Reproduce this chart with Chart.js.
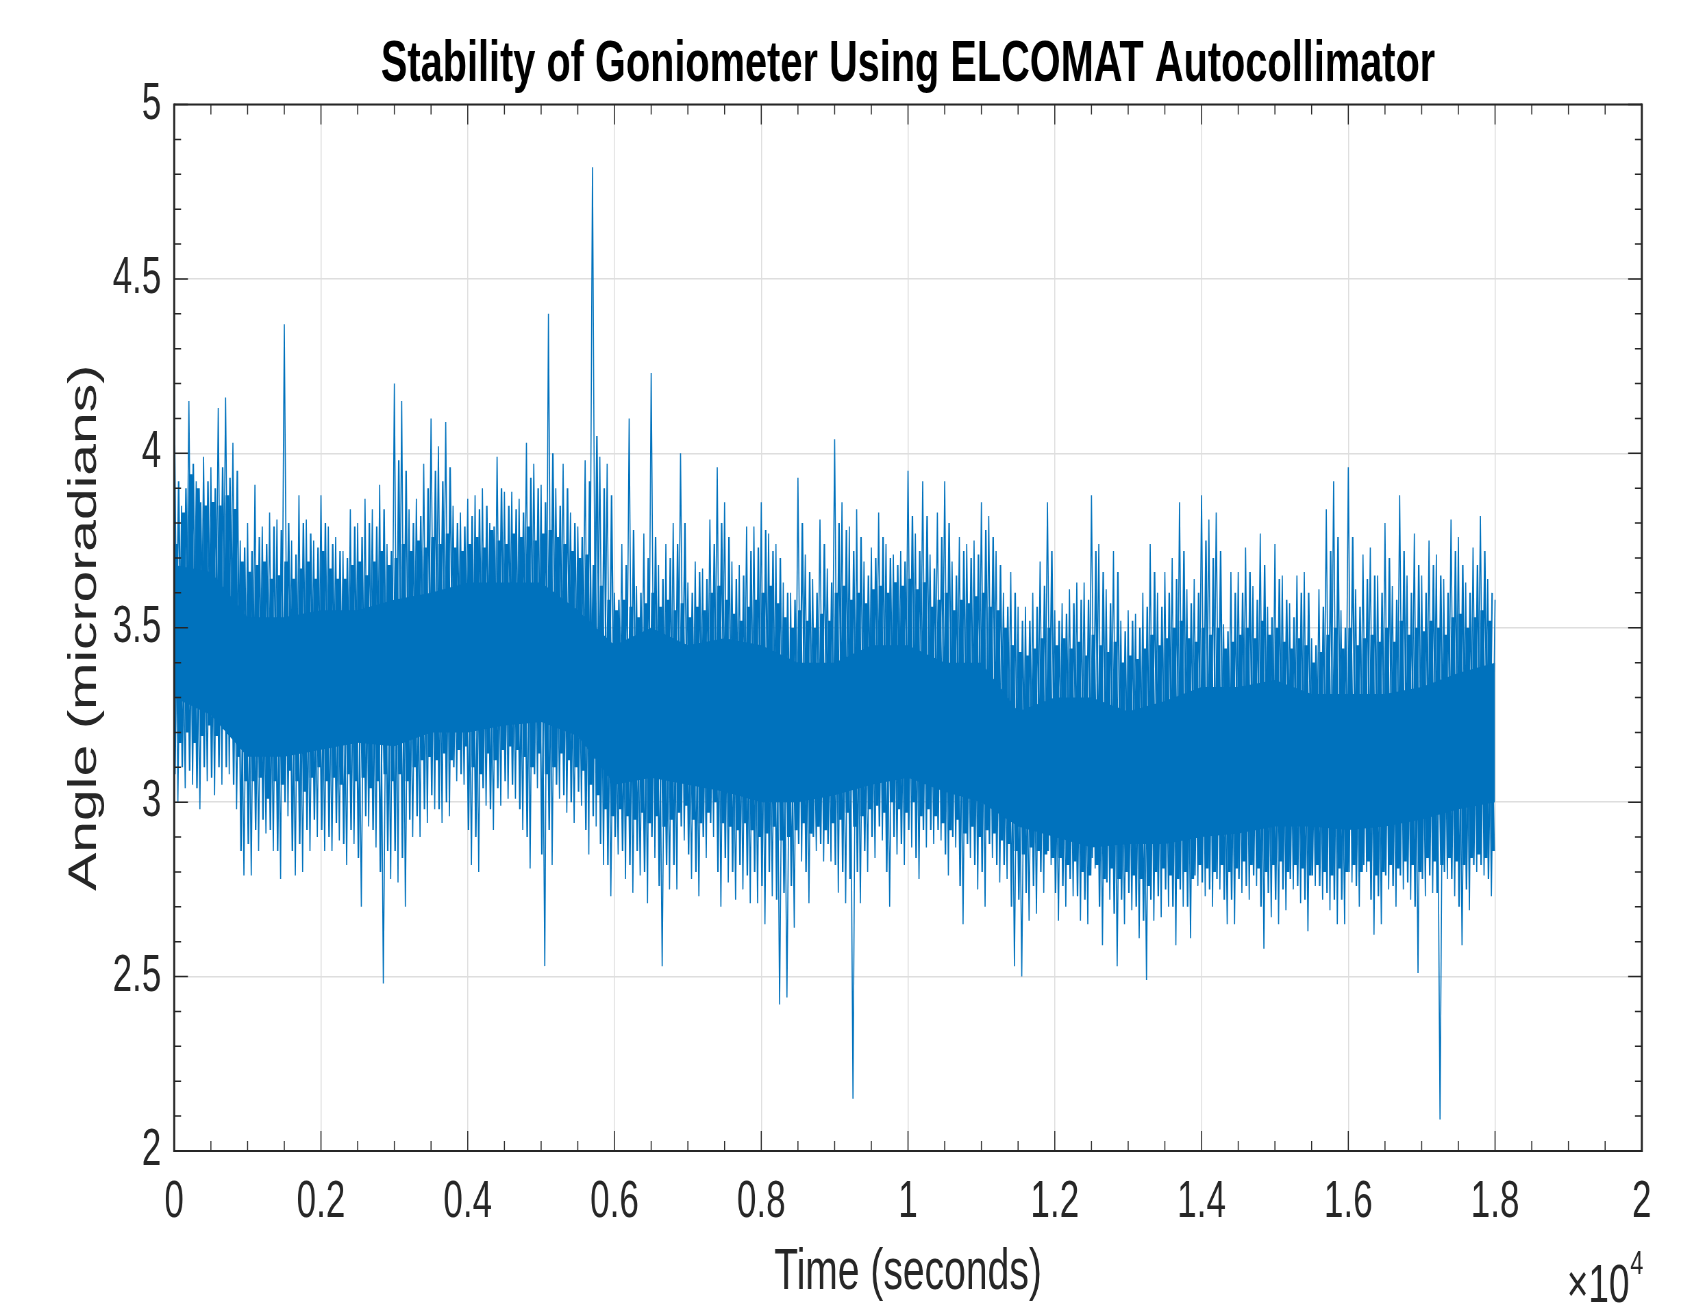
<!DOCTYPE html>
<html>
<head>
<meta charset="utf-8">
<script src="https://cdn.jsdelivr.net/npm/chart.js@4.4.1/dist/chart.umd.min.js"></script>
<style>
  html, body { margin: 0; padding: 0; background: #ffffff; overflow: hidden; width: 1707px; height: 1311px; }
  #wrap { position: absolute; left: 0; top: 0; width: 2492px; height: 1311px; transform: scaleX(0.685); transform-origin: 0 0; }
  canvas { display: block; }
</style>
</head>
<body>
<div id="wrap"><canvas id="chart" width="2492" height="1311"></canvas></div>
<script>
// ---------------- data ----------------
const chartTitle = 'Stability of Goniometer Using ELCOMAT Autocollimator';
const xAxisTitle = 'Time (seconds)';
const yAxisTitle = 'Angle (microradians)';
const xExponentLabel = '\u00d710';
const xExponent = '4';

const xTickValues = [0, 2000, 4000, 6000, 8000, 10000, 12000, 14000, 16000, 18000, 20000];
const xTickLabels = ['0', '0.2', '0.4', '0.6', '0.8', '1', '1.2', '1.4', '1.6', '1.8', '2'];
const yTickValues = [2, 2.5, 3, 3.5, 4, 4.5, 5];
const yTickLabels = ['2', '2.5', '3', '3.5', '4', '4.5', '5'];

// sampling grid of the envelope readings (seconds)
const peakStep = 100;   // column width of the readings
const coreStep = 500;   // solid core edges at 0, 500, ... 18000

// tallest excursion of the trace in each 100 s column (at t = 0, 100, ... 18000)
const peakHigh = [
  4.24,3.85,4.15,3.92,3.99,3.96,4.13,4.16,4.03,3.75,
  3.80,3.91,3.79,3.83,3.81,4.37,3.75,3.88,3.81,3.75,
  3.88,3.79,3.76,3.72,3.84,3.80,3.87,3.84,3.91,3.74,
  4.20,4.15,3.84,3.87,3.97,4.10,4.02,4.09,3.85,3.83,
  3.87,3.88,3.90,3.80,3.99,3.89,3.89,3.87,4.03,3.97,
  3.91,4.40,3.90,3.97,3.83,3.79,3.98,4.82,3.99,3.97,
  3.60,3.74,4.10,3.62,3.77,4.23,3.68,3.74,3.80,4.00,
  3.63,3.69,3.67,3.81,3.96,3.86,3.69,3.68,3.79,3.79,
  3.86,3.77,3.74,3.63,3.60,3.93,3.71,3.64,3.81,3.67,
  4.04,3.86,3.79,3.84,3.69,3.73,3.83,3.74,3.71,3.72,
  3.95,3.77,3.92,3.71,3.83,3.92,3.69,3.76,3.74,3.75,
  3.86,3.82,3.72,3.60,3.66,3.56,3.56,3.60,3.69,3.86,
  3.55,3.57,3.61,3.63,3.63,3.88,3.74,3.61,3.72,3.52,
  3.55,3.54,3.60,3.74,3.60,3.66,3.70,3.86,3.61,3.64,
  3.88,3.81,3.83,3.51,3.66,3.66,3.73,3.62,3.77,3.56,
  3.74,3.65,3.57,3.65,3.66,3.47,3.61,3.84,3.92,3.55,
  3.96,3.61,3.71,3.73,3.65,3.80,3.62,3.88,3.65,3.77,
  3.65,3.75,3.71,3.64,3.81,3.76,3.63,3.73,3.82,3.64,3.58
];

// deepest excursion of the trace in each 100 s column (at t = 50, 150, ... 17950)
const peakLow = [
  3.00,3.04,3.05,2.98,3.06,3.02,3.05,3.08,2.98,2.79,
  2.79,2.86,2.91,2.86,2.78,2.96,2.79,2.80,2.86,2.90,
  2.86,2.86,2.89,2.82,2.88,2.70,2.93,2.87,2.48,2.78,
  2.77,2.70,2.90,2.90,2.94,2.98,2.94,2.96,3.06,3.05,
  2.82,2.80,2.99,2.92,2.99,3.01,3.01,2.92,2.81,3.04,
  2.53,2.82,3.01,2.97,2.94,2.99,2.85,2.93,2.82,2.73,
  2.85,2.78,2.74,2.79,2.71,2.84,2.53,2.75,2.75,2.89,
  2.78,2.73,2.84,2.90,2.70,2.77,2.72,2.75,2.71,2.71,
  2.65,2.73,2.42,2.44,2.64,2.83,2.71,2.86,2.83,2.83,
  2.74,2.71,2.15,2.71,2.80,2.84,2.89,2.70,2.85,2.82,
  2.87,2.78,2.87,2.88,2.89,2.79,2.87,2.65,2.84,2.75,
  2.70,2.84,2.77,2.78,2.53,2.50,2.66,2.68,2.74,2.82,
  2.66,2.70,2.73,2.66,2.65,2.81,2.59,2.72,2.53,2.65,
  2.69,2.61,2.49,2.66,2.67,2.70,2.59,2.70,2.61,2.76,
  2.73,2.70,2.75,2.65,2.65,2.74,2.72,2.76,2.58,2.67,
  2.65,2.69,2.75,2.71,2.63,2.76,2.72,2.69,2.65,2.65,
  2.77,2.70,2.80,2.62,2.65,2.75,2.70,2.75,2.72,2.51,
  2.73,2.74,2.09,2.78,2.73,2.59,2.69,2.80,2.79,2.73
];

// second-tallest excursion per 100 s column (at t = 60, 160, ...)
const midHigh = [
  3.92,3.90,3.97,3.86,3.92,3.90,3.96,3.93,3.95,3.73,
  3.72,3.76,3.74,3.79,3.78,3.80,3.71,3.80,3.77,3.73,
  3.80,3.74,3.72,3.70,3.79,3.76,3.80,3.79,3.84,3.72,
  3.98,3.95,3.80,3.82,3.90,3.95,3.92,3.96,3.80,3.79,
  3.82,3.84,3.85,3.79,3.90,3.85,3.84,3.83,3.93,3.90,
  3.86,4.00,3.85,3.90,3.80,3.76,3.92,4.05,3.90,3.88,
  3.58,3.68,3.78,3.60,3.70,3.76,3.64,3.70,3.74,3.80,
  3.60,3.66,3.64,3.74,3.80,3.76,3.64,3.65,3.72,3.73,
  3.78,3.72,3.70,3.60,3.58,3.80,3.66,3.60,3.74,3.63,
  3.80,3.78,3.72,3.76,3.65,3.70,3.76,3.70,3.68,3.69,
  3.82,3.72,3.82,3.67,3.76,3.80,3.65,3.72,3.70,3.71,
  3.78,3.76,3.68,3.56,3.60,3.52,3.52,3.56,3.62,3.72,
  3.52,3.54,3.57,3.58,3.58,3.72,3.66,3.57,3.66,3.49,
  3.52,3.50,3.56,3.66,3.56,3.60,3.64,3.72,3.57,3.60,
  3.75,3.70,3.72,3.49,3.60,3.60,3.66,3.58,3.68,3.53,
  3.64,3.58,3.53,3.60,3.60,3.45,3.56,3.72,3.76,3.50,
  3.76,3.56,3.64,3.65,3.60,3.70,3.58,3.72,3.60,3.68,
  3.60,3.68,3.65,3.60,3.72,3.68,3.60,3.68,3.72,3.60
];

// second-deepest excursion per 100 s column (at t = 10, 110, ...)
const midLow = [
  3.08,3.10,3.09,3.04,3.10,3.07,3.10,3.10,3.05,2.86,
  2.88,2.92,2.95,2.92,2.86,3.00,2.86,2.88,2.92,2.95,
  2.92,2.90,2.94,2.88,2.92,2.84,2.96,2.92,2.80,2.86,
  2.86,2.84,2.95,2.96,2.98,3.02,2.98,3.00,3.10,3.08,
  2.92,2.90,3.04,2.98,3.04,3.06,3.05,2.98,2.90,3.08,
  2.85,2.92,3.05,3.02,3.00,3.03,2.92,2.96,2.88,2.82,
  2.90,2.86,2.82,2.86,2.80,2.90,2.76,2.82,2.82,2.93,
  2.85,2.80,2.90,2.94,2.80,2.84,2.80,2.82,2.79,2.80,
  2.76,2.80,2.72,2.74,2.76,2.88,2.80,2.90,2.88,2.88,
  2.82,2.80,2.78,2.80,2.86,2.90,2.93,2.80,2.90,2.88,
  2.92,2.84,2.92,2.92,2.92,2.85,2.90,2.76,2.88,2.82,
  2.80,2.88,2.82,2.82,2.70,2.72,2.74,2.76,2.80,2.86,
  2.74,2.76,2.78,2.73,2.72,2.84,2.70,2.77,2.68,2.72,
  2.74,2.70,2.66,2.72,2.73,2.75,2.70,2.75,2.70,2.79,
  2.77,2.75,2.78,2.72,2.72,2.78,2.76,2.79,2.70,2.74,
  2.72,2.75,2.78,2.76,2.72,2.79,2.76,2.74,2.72,2.72,
  2.80,2.76,2.82,2.72,2.73,2.79,2.76,2.79,2.77,2.70,
  2.78,2.79,2.74,2.80,2.78,2.70,2.75,2.82,2.82,2.78
];

// upper edge of the densely packed part of the trace per 100 s column (at t = 25, 125, ...)
const denseHigh = [
  3.74,3.83,3.94,3.90,3.85,3.86,3.85,3.88,3.84,3.69,
  3.66,3.68,3.69,3.64,3.65,3.69,3.64,3.67,3.69,3.64,
  3.72,3.67,3.64,3.64,3.68,3.69,3.65,3.69,3.72,3.68,
  3.70,3.74,3.72,3.75,3.73,3.76,3.74,3.77,3.73,3.72,
  3.74,3.76,3.73,3.78,3.75,3.74,3.77,3.76,3.79,3.75,
  3.77,3.78,3.76,3.74,3.72,3.70,3.71,3.68,3.62,3.58,
  3.55,3.58,3.56,3.53,3.57,3.60,3.56,3.58,3.55,3.57,
  3.53,3.56,3.55,3.60,3.62,3.58,3.54,3.52,3.56,3.58,
  3.60,3.62,3.57,3.53,3.50,3.55,3.52,3.50,3.54,3.52,
  3.60,3.62,3.58,3.60,3.57,3.61,3.62,3.60,3.63,3.62,
  3.64,3.61,3.63,3.56,3.58,3.60,3.55,3.58,3.57,3.59,
  3.60,3.56,3.55,3.50,3.45,3.43,3.42,3.44,3.47,3.50,
  3.45,3.47,3.44,3.46,3.42,3.48,3.45,3.43,3.46,3.40,
  3.42,3.41,3.44,3.48,3.45,3.47,3.50,3.52,3.47,3.46,
  3.50,3.48,3.50,3.44,3.46,3.48,3.50,3.47,3.52,3.48,
  3.50,3.46,3.44,3.47,3.45,3.40,3.43,3.48,3.50,3.44,
  3.50,3.45,3.47,3.48,3.46,3.50,3.46,3.52,3.48,3.50,
  3.49,3.52,3.50,3.48,3.53,3.54,3.50,3.53,3.55,3.52
];

// lower edge of the densely packed part of the trace per 100 s column (at t = 75, 175, ...)
const denseLow = [
  3.17,3.20,3.17,3.19,3.22,3.19,3.21,3.19,3.13,3.06,
  3.06,3.07,3.01,3.06,3.05,3.09,3.06,3.03,3.07,3.10,
  3.06,3.07,3.05,3.08,3.06,3.07,3.04,3.06,3.08,3.06,
  3.08,3.06,3.10,3.12,3.13,3.12,3.14,3.12,3.15,3.16,
  3.10,3.08,3.14,3.12,3.15,3.16,3.15,3.13,3.10,3.14,
  3.08,3.10,3.14,3.12,3.10,3.09,3.05,3.02,2.98,2.96,
  2.98,2.96,2.95,2.97,2.94,2.96,2.93,2.95,2.97,2.99,
  2.95,2.94,2.97,3.00,2.94,2.93,2.92,2.94,2.92,2.90,
  2.91,2.93,2.89,2.90,2.92,2.94,2.91,2.93,2.92,2.94,
  2.95,2.97,2.93,2.96,2.98,2.99,2.97,3.00,2.98,2.97,
  3.00,2.96,2.98,2.96,2.94,2.92,2.95,2.91,2.93,2.90,
  2.92,2.91,2.89,2.88,2.86,2.85,2.87,2.86,2.85,2.84,
  2.84,2.82,2.83,2.80,2.79,2.82,2.78,2.81,2.78,2.80,
  2.79,2.78,2.76,2.80,2.81,2.79,2.78,2.80,2.78,2.82,
  2.81,2.80,2.82,2.80,2.81,2.83,2.82,2.81,2.80,2.82,
  2.83,2.80,2.82,2.81,2.79,2.82,2.80,2.79,2.81,2.80,
  2.82,2.80,2.83,2.79,2.80,2.82,2.81,2.83,2.82,2.80,
  2.84,2.83,2.82,2.84,2.83,2.82,2.84,2.85,2.84,2.86
];

// edges of the solid core of the trace, every 500 s (t = 0 ... 18000)
const coreTop = [
  3.68,3.66,3.53,3.53,3.55,3.55,3.58,3.60,3.63,3.63,
  3.63,3.55,3.45,3.50,3.45,3.47,3.45,3.40,3.40,3.45,
  3.45,3.40,3.40,3.26,3.30,3.30,3.26,3.29,3.33,3.33,
  3.35,3.31,3.31,3.31,3.33,3.37,3.40
];
const coreBottom = [
  3.30,3.25,3.13,3.13,3.15,3.17,3.16,3.20,3.20,3.22,
  3.23,3.19,3.05,3.07,3.05,3.03,3.00,3.00,3.02,3.05,
  3.07,3.03,3.00,2.93,2.90,2.87,2.88,2.88,2.90,2.91,
  2.93,2.93,2.92,2.93,2.95,2.98,3.00
];

// ---------------- build datasets ----------------
const tracePoints = [];
for (let i = 0; i < peakHigh.length; i++) {
  tracePoints.push({ x: i * peakStep, y: peakHigh[i] });
  if (i < peakLow.length) tracePoints.push({ x: i * peakStep + 50, y: peakLow[i] });
}
const midPoints = [];
for (let i = 0; i < midHigh.length; i++) {
  midPoints.push({ x: i * peakStep + 10, y: midLow[i] });
  midPoints.push({ x: i * peakStep + 60, y: midHigh[i] });
}
const densePoints = [];
for (let i = 0; i < denseHigh.length; i++) {
  densePoints.push({ x: i * peakStep + 25, y: denseHigh[i] });
  densePoints.push({ x: i * peakStep + 75, y: denseLow[i] });
}
const coreTopPoints = coreTop.map((v, i) => ({ x: i * coreStep, y: v }));
const coreBottomPoints = coreBottom.map((v, i) => ({ x: i * coreStep, y: v }));

const FONT = '"Liberation Sans", Arial, Helvetica, sans-serif';
const LINE = '#0072BD';
const AXIS = '#262626';
const GRID = '#DEDEDE';

const matlabAxes = {
  id: 'matlabAxes',
  afterDraw(chart) {
    const ctx = chart.ctx;
    const a = chart.chartArea;
    const xs = chart.scales.x, ys = chart.scales.y;
    ctx.save();
    ctx.strokeStyle = AXIS;
    ctx.lineWidth = 1.5;
    for (let v = 0; v <= 20000; v += 500) {
      const px = xs.getPixelForValue(v);
      const len = (v % 2000 === 0) ? 20 : 10;
      ctx.beginPath();
      ctx.moveTo(px, a.bottom); ctx.lineTo(px, a.bottom - len);
      ctx.moveTo(px, a.top); ctx.lineTo(px, a.top + len);
      ctx.stroke();
    }
    for (let k = 0; k <= 30; k++) {
      const v = 2 + k * 0.1;
      const py = ys.getPixelForValue(v);
      const len = (k % 5 === 0) ? 20 : 10;
      ctx.beginPath();
      ctx.moveTo(a.left, py); ctx.lineTo(a.left + len, py);
      ctx.moveTo(a.right, py); ctx.lineTo(a.right - len, py);
      ctx.stroke();
    }
    ctx.lineWidth = 2;
    ctx.beginPath();
    ctx.moveTo(a.left, a.top); ctx.lineTo(a.right, a.top);
    ctx.moveTo(a.left, a.bottom); ctx.lineTo(a.right, a.bottom);
    ctx.stroke();
    ctx.lineWidth = 2.9;
    ctx.beginPath();
    ctx.moveTo(a.left, a.top - 1); ctx.lineTo(a.left, a.bottom + 1);
    ctx.moveTo(a.right, a.top - 1); ctx.lineTo(a.right, a.bottom + 1);
    ctx.stroke();
    ctx.fillStyle = AXIS;
    ctx.textBaseline = 'alphabetic';
    ctx.textAlign = 'right';
    ctx.font = '34px ' + FONT;
    const w4 = ctx.measureText(xExponent).width;
    ctx.fillText(xExponent, a.right + 2, 1274);
    ctx.font = '54px ' + FONT;
    ctx.fillText(xExponentLabel, a.right + 1 - w4, 1302);
    ctx.restore();
  }
};

new Chart(document.getElementById('chart'), {
  type: 'line',
  data: {
    datasets: [
      { label: 'core', data: coreTopPoints, fill: '+1', backgroundColor: LINE, borderColor: LINE, borderWidth: 0, pointRadius: 0, tension: 0 },
      { label: 'coreLow', data: coreBottomPoints, fill: false, borderColor: LINE, borderWidth: 0, pointRadius: 0, tension: 0 },
      { label: 'AngleDense', data: densePoints, fill: false, borderColor: LINE, borderWidth: 5, pointRadius: 0, tension: 0 },
      { label: 'AngleMid', data: midPoints, fill: false, borderColor: LINE, borderWidth: 2.2, pointRadius: 0, tension: 0 },
      { label: 'Angle', data: tracePoints, fill: false, borderColor: LINE, borderWidth: 1.6, pointRadius: 0, tension: 0 }
    ]
  },
  options: {
    responsive: false,
    animation: false,
    devicePixelRatio: 1,
    events: [],
    layout: { padding: { left: 0, right: 95.2, top: 0, bottom: 0 } },
    plugins: {
      legend: { display: false },
      tooltip: { enabled: false },
      title: {
        display: true,
        text: chartTitle,
        fullSize: false,
        color: '#000000',
        font: { family: FONT, size: 58, weight: 'bold', lineHeight: 1 },
        padding: { top: 36, bottom: 10.5 }
      }
    },
    scales: {
      x: {
        type: 'linear',
        min: 0, max: 20000,
        afterBuildTicks: s => { s.ticks = xTickValues.map(v => ({ value: v })); },
        afterFit: s => { s.height = 160; },
        ticks: {
          autoSkip: false, maxRotation: 0, minRotation: 0,
          color: AXIS, padding: 26,
          font: { family: FONT, size: 51, lineHeight: 1 },
          callback: v => xTickLabels[xTickValues.indexOf(v)]
        },
        grid: { color: GRID, lineWidth: 1.5, drawTicks: false },
        border: { display: false },
        title: {
          display: true, text: xAxisTitle, color: AXIS,
          font: { family: FONT, size: 57, lineHeight: 1 },
          padding: { top: 0, bottom: 9 }
        }
      },
      y: {
        type: 'linear',
        min: 2, max: 5,
        afterBuildTicks: s => { s.ticks = yTickValues.map(v => ({ value: v })); },
        afterFit: s => { s.width = 254.3; },
        ticks: {
          autoSkip: false,
          color: AXIS, padding: 19,
          font: { family: FONT, size: 51, lineHeight: 1 },
          callback: v => yTickLabels[yTickValues.indexOf(v)]
        },
        grid: { color: GRID, lineWidth: 1.5, drawTicks: false },
        border: { display: false },
        title: {
          display: true, text: yAxisTitle, color: AXIS,
          font: { family: FONT, size: 57, lineHeight: 1 },
          padding: { top: 95.5, bottom: 0 }
        }
      }
    }
  },
  plugins: [matlabAxes]
});
</script>
</body>
</html>
